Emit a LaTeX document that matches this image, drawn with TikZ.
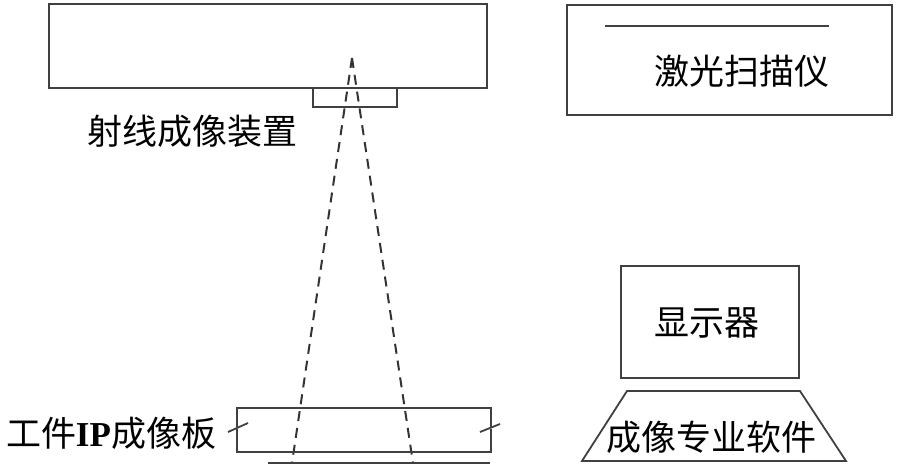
\documentclass[tikz,border=0pt]{standalone}
\usepackage{fontspec}
\setmainfont{Liberation Serif}
\newfontfamily\cjk{Noto Sans CJK SC}
\begin{document}
\begin{tikzpicture}[x=1pt,y=-1pt,
  box/.style={draw=black!75,line width=1.8pt},
  ray/.style={draw=black!80,line width=2pt,dash pattern=on 10pt off 7pt},
  lbl/.style={inner sep=0pt,font=\fontsize{35}{40}\selectfont\cjk}]
\useasboundingbox (0,0) rectangle (910,467);
% radiation imaging device
\draw[box] (49,4) rectangle (487,88);
\draw[box] (313,88) rectangle (397,107);
\node[lbl] (src) at (192,131) {射线成像装置};
% rays
\coordinate (apex) at (352,58);
\coordinate (rl) at (292,463);
\coordinate (rr) at (413,463);
\draw[ray] (apex) -- (rl);
\draw[ray] (apex) -- (rr);
% IP plate
\draw[box] (237,427) -- (237,408) -- (491,408) -- (491,427);
\draw[box] (237,429) -- (237,452) -- (491,452) -- (491,429);
\draw[box] (228,432) -- (248,423);
\draw[box] (480,432) -- (500,424);
\draw[box] (268,463) -- (490,463);
\node[lbl] (ip) at (111,433) {工件{\fontspec{Liberation Serif}\bfseries IP}成像板};
% laser scanner
\draw[box] (567,5) rectangle (892,115);
\draw[box] (605,26) -- (829,26);
\node[lbl] (scan) at (742,71) {激光扫描仪};
% display
\draw[box] (621,266) rectangle (799,378);
\node[lbl] (disp) at (707,323) {显示器};
% software
\draw[box] (627,391) -- (800,391) -- (846,461) -- (582,461) -- cycle;
\node[lbl] (soft) at (711,437) {成像专业软件};
\end{tikzpicture}
\end{document}
